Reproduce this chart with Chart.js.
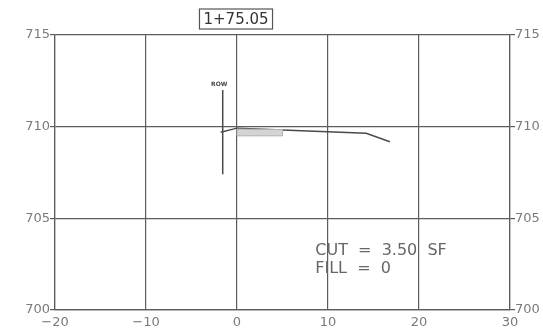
<!DOCTYPE html>
<html lang="en">
<head>
    <meta charset="UTF-8">
    <title>Cross Section 1+75.05</title>
    <script src="https://cdn.jsdelivr.net/npm/chart.js"></script>
    <style>
        body { margin: 0; background: white; }
        .chart-container { position: relative; width: 543px; height: 330px; }
    </style>
</head>
<body>
    <div class="chart-container"><canvas id="sectionChart"></canvas></div>

    <script>
        // station + section values
        const station = "1+75.05";
        const xTicks = [-20, -10, 0, 10, 20, 30];
        const yTicks = [700, 705, 710, 715];

        const groundX = [-1.8, 0.0, 14.2, 16.8];
        const groundY = [709.70, 709.92, 709.64, 709.18];

        const rowX = [-1.57, -1.57];
        const rowY = [712.0, 707.4];

        const paveX = [0.0, 5.0, 5.0, 0.0, 0.0];
        const paveY = [709.87, 709.84, 709.50, 709.50, 709.87];

        const cutText = "CUT  =  3.50  SF";
        const fillText = "FILL  =  0";

        const toPoints = (xs, ys) => xs.map((x, i) => ({ x: x, y: ys[i] }));

        const gray = "#5c5c5c";
        const labelGray = "#7a7a7a";

        // draws the station box, ROW tag and the quantities
        const notes = {
            id: "notes",
            afterDraw(chart) {
                const ctx = chart.ctx;
                const xs = chart.scales.x, ys = chart.scales.y;
                ctx.save();

                // station box above the plot
                ctx.font = "15px 'DejaVu Sans'";
                ctx.textAlign = "center";
                ctx.textBaseline = "middle";
                const cx = xs.getPixelForValue(0) - 1;
                const cy = chart.chartArea.top - 16;
                const w = ctx.measureText(station).width + 8;
                ctx.fillStyle = "#fff";
                ctx.fillRect(cx - w / 2, cy - 10, w, 20);
                ctx.strokeStyle = "#555";
                ctx.lineWidth = 1.2;
                ctx.strokeRect(cx - w / 2, cy - 10, w, 20);
                ctx.fillStyle = "#333";
                ctx.fillText(station, cx, cy + 1);

                // ROW tag
                ctx.font = "bold 6px 'DejaVu Sans'";
                ctx.fillStyle = "#444";
                ctx.fillText("ROW", xs.getPixelForValue(-1.95), ys.getPixelForValue(712.3));

                // quantities
                ctx.font = "16px 'DejaVu Sans'";
                ctx.textAlign = "left";
                ctx.fillStyle = "#666";
                ctx.fillText(cutText, xs.getPixelForValue(8.6), ys.getPixelForValue(703.2));
                ctx.fillText(fillText, xs.getPixelForValue(8.6), ys.getPixelForValue(702.25));
                ctx.restore();
            }
        };

        const tickFont = { family: "DejaVu Sans", size: 13 };
        const minus = v => (v < 0 ? "\u2212" + Math.abs(v) : String(v));

        const ctxSection = document.getElementById("sectionChart").getContext("2d");
        const sectionChart = new Chart(ctxSection, {
            type: "scatter",
            data: {
                datasets: [
                    {
                        label: "pavement",
                        data: toPoints(paveX, paveY),
                        showLine: true,
                        fill: "shape",
                        backgroundColor: "#d4d4d4",
                        borderColor: "#b0b0b0",
                        borderWidth: 1,
                        pointRadius: 0
                    },
                    {
                        label: "ground",
                        data: toPoints(groundX, groundY),
                        showLine: true,
                        borderColor: "#4a4a4a",
                        borderWidth: 1.5,
                        pointRadius: 0
                    },
                    {
                        label: "ROW",
                        data: toPoints(rowX, rowY),
                        showLine: true,
                        borderColor: "#4a4a4a",
                        borderWidth: 1.5,
                        pointRadius: 0
                    }
                ]
            },
            options: {
                responsive: true,
                maintainAspectRatio: false,
                animation: false,
                layout: { padding: { top: 35, left: 0, right: 0, bottom: 0 } },
                plugins: { legend: { display: false }, tooltip: { enabled: false } },
                scales: {
                    x: {
                        type: "linear",
                        min: xTicks[0],
                        max: xTicks[xTicks.length - 1],
                        afterBuildTicks: s => { s.ticks = xTicks.map(v => ({ value: v })); },
                        afterFit: s => { s.height = 20; },
                        grid: { color: gray, lineWidth: 1.2, drawTicks: false },
                        border: { color: gray, width: 1.2 },
                        ticks: { font: tickFont, color: labelGray, padding: 5, maxRotation: 0, callback: minus }
                    },
                    y: {
                        type: "linear",
                        position: "left",
                        min: yTicks[0],
                        max: yTicks[yTicks.length - 1],
                        afterBuildTicks: s => { s.ticks = yTicks.map(v => ({ value: v })); },
                        afterFit: s => { s.width = 55; },
                        grid: { color: gray, lineWidth: 1.2, tickLength: 5 },
                        border: { color: gray, width: 1.2 },
                        ticks: { font: tickFont, color: labelGray, padding: 0 }
                    },
                    y2: {
                        type: "linear",
                        position: "right",
                        min: yTicks[0],
                        max: yTicks[yTicks.length - 1],
                        afterBuildTicks: s => { s.ticks = yTicks.map(v => ({ value: v })); },
                        afterFit: s => { s.width = 33; },
                        grid: { color: gray, lineWidth: 1.2, tickLength: 5, drawOnChartArea: false },
                        border: { color: gray, width: 1.2 },
                        ticks: { font: tickFont, color: labelGray, padding: 0 }
                    }
                }
            },
            plugins: [notes]
        });
    </script>
</body>
</html>
